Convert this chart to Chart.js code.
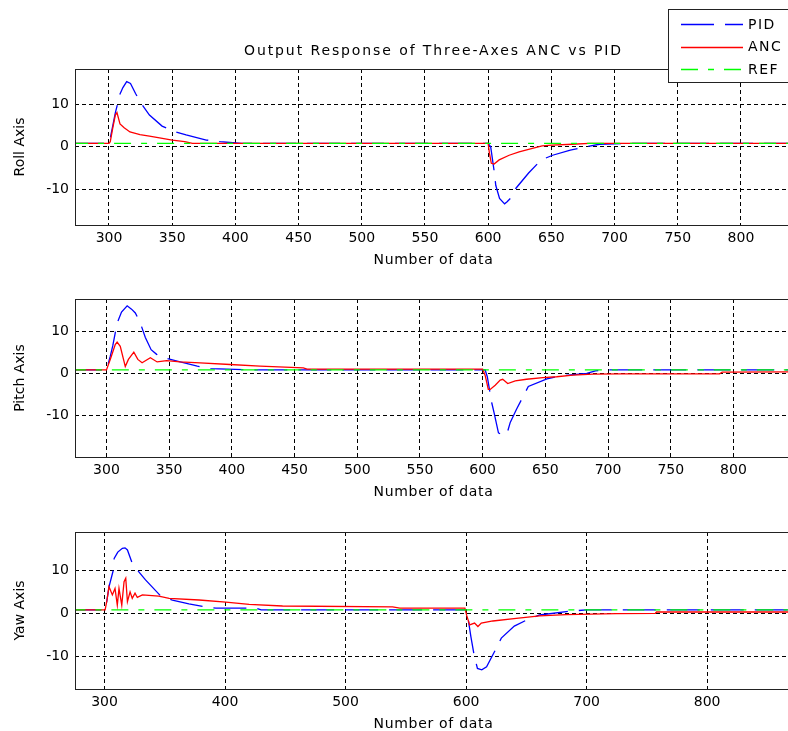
<!DOCTYPE html>
<html><head><meta charset="utf-8">
<script src="https://cdn.jsdelivr.net/npm/chart.js@4"></script>
<style>
html,body{margin:0;padding:0;background:#fff;overflow:hidden}
#wrap{position:relative;width:788px;height:731px;overflow:hidden;background:#fff}
canvas{position:absolute;left:0}
</style></head><body><div id="wrap">
<canvas id="roll" width="800" height="272" style="top:0px"></canvas>
<canvas id="pitch" width="800" height="232" style="top:272px"></canvas>
<canvas id="yaw" width="800" height="232" style="top:504px"></canvas>
</div>
<script>
const titleText = 'Output Response of Three-Axes ANC vs PID';
const seriesLabels = ['PID', 'ANC', 'REF'];
const seriesColors = ['#0000ff', '#ff0000', '#00ff00'];
const axisTitles = ['Roll Axis', 'Pitch Axis', 'Yaw Axis'];
const xTitle = 'Number of data';

const xTicksFine = [300, 350, 400, 450, 500, 550, 600, 650, 700, 750, 800];
const xTicksCoarse = [300, 400, 500, 600, 700, 800];
const yTicks = [-10, 0, 10];

const refX = [270, 880];
const refY = [0.8, 0.8];

const rollPidX = [270, 300, 301, 303, 305, 306.5, 308, 311, 314, 317, 321, 324, 326, 332, 342, 351, 361, 377, 388, 398, 405, 600, 602, 605, 606, 609, 613, 615, 619, 622, 632, 642, 651, 665, 677, 688, 700, 710, 880];
const rollPidY = [0.8, 0.8, 2.0, 5.0, 8.0, 9.8, 12.0, 14.0, 15.4, 15.0, 12.6, 11.0, 10.0, 7.5, 4.9, 3.7, 2.8, 1.6, 1.2, 0.95, 0.8, 0.8, 0.0, -6.3, -9.1, -12.2, -13.5, -13.0, -11.8, -9.8, -6.2, -3.1, -2.0, -0.8, 0.0, 0.6, 0.7, 0.8, 0.8];
const rollAncX = [270, 300, 301, 303, 305, 306.3, 308.7, 312, 316.6, 324.5, 332, 340, 350, 360, 366, 600, 601, 602.5, 604.7, 608.7, 616.6, 624.5, 635, 642.7, 650.6, 666.5, 680, 880];
const rollAncY = [0.8, 0.8, 1.2, 4.5, 7.5, 8.1, 5.4, 4.5, 3.5, 2.9, 2.5, 2.1, 1.6, 1.2, 0.8, 0.8, -1.5, -3.9, -4.1, -3.1, -2.0, -1.2, -0.4, 0.2, 0.4, 0.6, 0.8, 0.8];

const pitchPidX = [270, 300, 303, 305, 307, 308.5, 312, 316.5, 320, 323, 327, 331, 335.6, 340, 345.7, 356.4, 372.4, 383, 409.6, 420, 600, 602, 603.7, 607.2, 609, 612.6, 616, 619.3, 622, 627, 632.6, 636.4, 651.3, 662, 683, 690, 700, 880];
const pitchPidY = [0.8, 0.8, 4.0, 6.5, 9.6, 11.9, 14.5, 16.0, 15.2, 14.3, 11.9, 8.5, 5.6, 4.5, 3.7, 2.9, 1.7, 1.1, 0.9, 0.8, 0.8, 0.8, -0.8, -6.9, -9.2, -14.1, -14.6, -14.4, -11.6, -8.5, -5.3, -3.1, -1.3, -0.6, 0.0, 0.6, 0.8, 0.8];
const pitchAncX = [270, 300, 303, 307, 308.5, 311, 315, 317.5, 321.8, 325, 328.4, 335, 340.4, 348, 358.6, 374.6, 398.5, 422.5, 457, 460, 600, 602, 604.5, 606, 610, 614, 616, 620, 626, 635, 648, 659, 672, 688, 710, 789, 791, 880];
const pitchAncY = [0.8, 0.8, 3.3, 6.8, 7.4, 6.4, 1.6, 3.3, 5.0, 3.3, 2.5, 3.7, 2.7, 3.0, 2.7, 2.5, 2.1, 1.7, 1.3, 1.0, 1.0, -0.5, -3.8, -3.8, -2.8, -1.6, -1.4, -2.4, -1.8, -1.4, -1.0, -0.8, -0.4, -0.2, -0.1, -0.1, 0.3, 0.4];

const yawPidX = [270, 300.5, 302, 303.7, 307.3, 308, 311, 314.8, 317, 319, 323, 326, 334, 346.7, 356.3, 370, 384, 392.4, 425.6, 430, 600, 601, 604, 606.6, 609.4, 613, 617, 625, 629.2, 640, 650, 661, 683, 700, 880];
const yawPidY = [0.8, 0.8, 3.0, 6.2, 10.1, 12.8, 14.3, 15.2, 15.3, 14.8, 11.7, 10.5, 7.8, 4.0, 3.1, 2.2, 1.5, 1.2, 1.2, 0.8, 0.8, 0.0, -5.5, -9.7, -12.9, -13.2, -12.5, -8.2, -5.8, -3.0, -1.6, -0.4, 0.4, 0.8, 0.8];
const yawAncX = [270, 300.5, 302, 303.7, 306.5, 308.7, 310.6, 312, 314.3, 316.2, 317.6, 319, 321.2, 323, 325.3, 327.2, 331.4, 345, 353.6, 378.5, 400.7, 420, 447.7, 539, 545, 599, 600.5, 602.9, 607, 609.8, 612.6, 622.2, 641.6, 661, 683, 724.5, 757, 758, 880];
const yawAncY = [0.8, 0.8, 3.0, 6.2, 4.3, 5.8, 1.9, 5.8, 1.9, 7.4, 8.2, 2.7, 5.0, 3.5, 4.7, 3.7, 4.3, 4.0, 3.5, 3.1, 2.6, 2.1, 1.7, 1.5, 1.2, 1.2, -0.5, -2.7, -2.3, -3.1, -2.3, -1.8, -1.2, -0.6, -0.3, -0.1, 0.0, 0.3, 0.3];

const FONT = "'DejaVu Sans', sans-serif";
const DASHES = [[33, 11], [], [17, 10, 6, 10]];

function pts(xs, ys) { return xs.map((x, i) => ({ x: x, y: ys[i] })); }

function spaced(obj, name, sp) {
  if (!obj || obj['__sp_' + name]) return;
  const orig = obj[name];
  obj[name] = function (...a) {
    const c = this.ctx; const p = c.letterSpacing;
    c.letterSpacing = sp; const r = orig.apply(this, a); c.letterSpacing = p; return r;
  };
  obj['__sp_' + name] = true;
}

const spacingPlugin = {
  id: 'spacing',
  afterUpdate(chart) {
    if (chart.titleBlock) spaced(chart.titleBlock, 'draw', '1.9px');
    spaced(chart.scales.x, 'drawTitle', '0.7px');
  }
};

const framePlugin = {
  id: 'frame',
  afterDraw(chart) {
    const { ctx, chartArea: a } = chart;
    ctx.save();
    ctx.setLineDash([]);
    ctx.strokeStyle = '#222'; ctx.lineWidth = 1;
    ctx.strokeRect(Math.round(a.left) + 0.5, Math.round(a.top) + 0.5, Math.round(a.right - a.left), Math.round(a.bottom - a.top));
    ctx.restore();
  }
};

const legendPlugin = {
  id: 'boxLegend',
  afterDraw(chart) {
    const ctx = chart.ctx;
    ctx.save();
    ctx.setLineDash([]);
    ctx.fillStyle = '#ffffff'; ctx.fillRect(668, 9, 140, 74);
    ctx.strokeStyle = '#222222'; ctx.lineWidth = 1; ctx.strokeRect(668.5, 9.5, 140, 73);
    ctx.font = '14px ' + FONT; ctx.textBaseline = 'middle'; ctx.textAlign = 'left';
    ctx.letterSpacing = '1.5px';
    seriesLabels.forEach((lab, i) => {
      const y = 24 + i * 22.7; const yy = Math.round(y) + 0.5;
      ctx.strokeStyle = seriesColors[i]; ctx.lineWidth = 1.3;
      ctx.setLineDash(DASHES[i]);
      ctx.beginPath(); ctx.moveTo(681, yy); ctx.lineTo(743, yy); ctx.stroke();
      ctx.setLineDash([]);
      ctx.fillStyle = '#000000';
      ctx.fillText(lab, 748, y + 1);
    });
    ctx.restore();
  }
};

function makeChart(id, yTitle, pid, anc, xr, yr, xTicks, padTop, withTitle) {
  const plugins = [spacingPlugin, framePlugin];
  if (withTitle) plugins.push(legendPlugin);
  return new Chart(document.getElementById(id), {
    type: 'line',
    data: {
      datasets: [
        { label: seriesLabels[0], data: pid, borderColor: seriesColors[0], borderWidth: 1.3, borderDash: DASHES[0], pointRadius: 0, tension: 0, order: 2 },
        { label: seriesLabels[1], data: anc, borderColor: seriesColors[1], borderWidth: 1.3, pointRadius: 0, tension: 0, order: 1 },
        { label: seriesLabels[2], data: pts(refX, refY), borderColor: seriesColors[2], borderWidth: 1.3, borderDash: DASHES[2], pointRadius: 0, tension: 0, order: 0 }
      ]
    },
    options: {
      responsive: false, maintainAspectRatio: false, animation: false, devicePixelRatio: 1,
      layout: { padding: { left: 0, right: 8, top: padTop, bottom: 0 } },
      plugins: {
        legend: { display: false },
        tooltip: { enabled: false },
        title: {
          display: withTitle, text: titleText, color: '#000', fullSize: false,
          font: { family: FONT, size: 14, weight: 'normal' },
          padding: { top: 42.6, bottom: 9.6 }
        }
      },
      scales: {
        x: {
          type: 'linear', min: xr[0], max: xr[1],
          afterFit(s) { s.height = 47; },
          afterBuildTicks(s) { s.ticks = xTicks.map(v => ({ value: v })); },
          ticks: { color: '#000', padding: 5, maxRotation: 0, autoSkip: false, font: { family: FONT, size: 14 } },
          grid: { color: '#000', lineWidth: 1, drawTicks: false },
          border: { display: false, dash: [4, 3] },
          title: { display: true, text: xTitle, color: '#000', font: { family: FONT, size: 14 }, padding: { top: 0, bottom: 3 } }
        },
        y: {
          type: 'linear', min: yr[0], max: yr[1],
          afterFit(s) { s.width = 75; },
          afterBuildTicks(s) { s.ticks = yTicks.map(v => ({ value: v })); },
          ticks: { color: '#000', padding: 6, font: { family: FONT, size: 14 } },
          grid: { color: '#000', lineWidth: 1, drawTicks: false },
          border: { display: false, dash: [4, 3] },
          title: { display: true, text: yTitle, color: '#000', font: { family: FONT, size: 14 }, padding: { top: 12, bottom: 0 } }
        }
      }
    },
    plugins: plugins
  });
}

makeChart('roll', axisTitles[0], pts(rollPidX, rollPidY), pts(rollAncX, rollAncY), [273.1, 840.4], [-18.5, 18.4], xTicksFine, 0, true);
makeChart('pitch', axisTitles[1], pts(pitchPidX, pitchPidY), pts(pitchAncX, pitchAncY), [274.9, 846.7], [-19.8, 17.6], xTicksFine, 27, false);
makeChart('yaw', axisTitles[2], pts(yawPidX, yawPidY), pts(yawAncX, yawAncY), [275.5, 870.4], [-17.7, 19.0], xTicksCoarse, 28, false);
</script>
</body></html>
